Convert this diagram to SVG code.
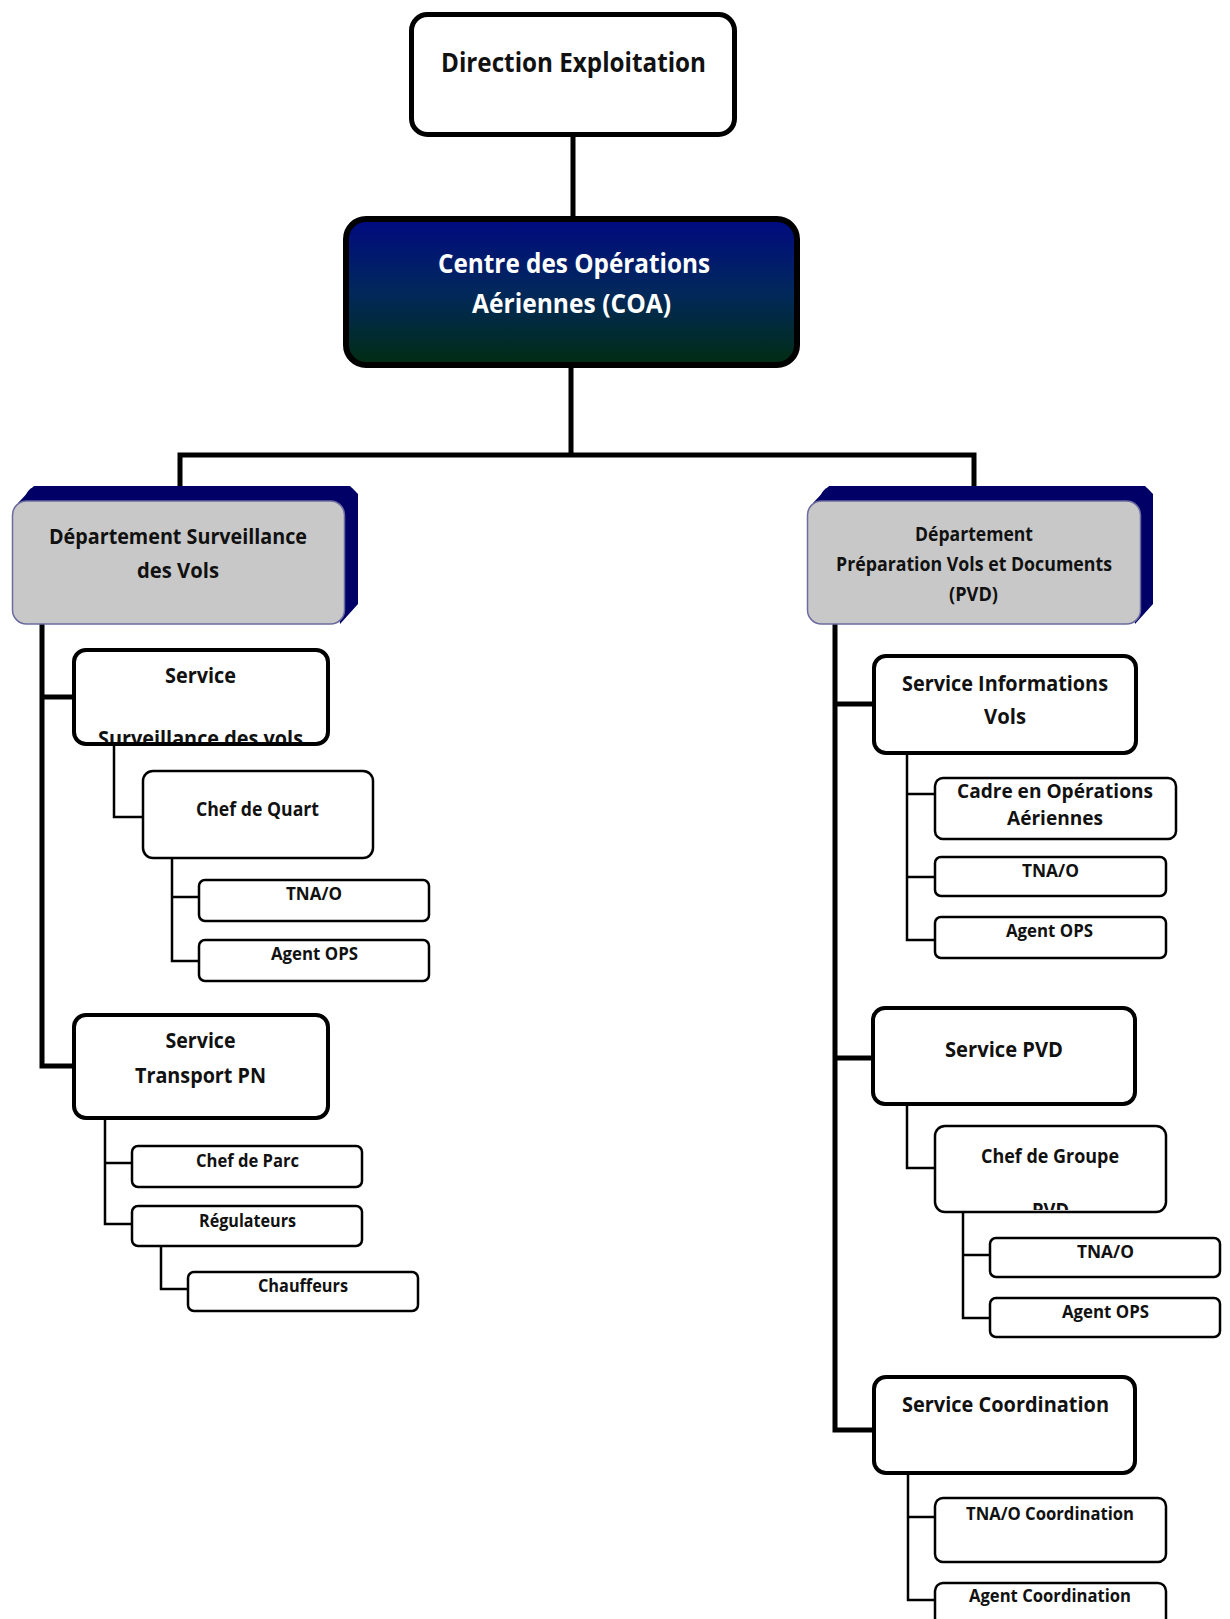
<svg xmlns="http://www.w3.org/2000/svg" width="1230" height="1619" viewBox="0 0 1230 1619">
  <defs>
    <linearGradient id="coaFill" x1="0" y1="0" x2="0" y2="1">
      <stop offset="0" stop-color="#000a80"/>
      <stop offset="0.5" stop-color="#01285c"/>
      <stop offset="1" stop-color="#012d12"/>
    </linearGradient>
    <clipPath id="clipSurv"><rect x="70" y="640" width="270" height="102"/></clipPath>
    <clipPath id="clipGroupe"><rect x="930" y="1120" width="245" height="90"/></clipPath>
    <style>
      text { font-family: "Open Sans", "Noto Sans", "Liberation Sans", sans-serif; font-weight: bold; fill: #111; }
      .box { fill: #fff; stroke: #000; }
      .b5 { stroke-width: 5; }
      .b4 { stroke-width: 4; }
      .b3 { stroke-width: 2.5; }
      .dept { fill: #c8c8c8; stroke: #6b6ba0; stroke-width: 1.5; }
      .deptBack { fill: #000066; }
      .thick { fill: none; stroke: #000; stroke-width: 5; }
      .thin { fill: none; stroke: #000; stroke-width: 2.5; }
      .white { fill: #fff; }
      .f26 { font-size: 26px; }
      .f21 { font-size: 21.5px; }
      .f19 { font-size: 19px; }
      .f18 { font-size: 18px; }
    </style>
  </defs>

  <!-- connectors -->
  <g id="connectors">
    <path class="thick" d="M573,137 V216"/>
    <path class="thick" d="M571,368 V455 M177.5,455 H976.5 M180,455 V488 M974,455 V488"/>
    <path class="thick" d="M42,624 V1066 H72 M42,697 H72"/>
    <path class="thick" d="M835,624 V1430 H872 M835,704 H872 M835,1058 H871"/>
    <path class="thin" d="M114,746 V817 H142"/>
    <path class="thin" d="M172,859 V961 H198 M172,897 H198"/>
    <path class="thin" d="M105,1120 V1224 H131 M105,1163 H131"/>
    <path class="thin" d="M161,1247 V1289 H187"/>
    <path class="thin" d="M907,755 V940 H934 M907,794 H934 M907,877 H934"/>
    <path class="thin" d="M907,1106 V1168 H934"/>
    <path class="thin" d="M963,1213 V1318 H989 M963,1255 H989"/>
    <path class="thin" d="M908,1475 V1600 H934 M908,1517 H934"/>
  </g>

  <!-- top management -->
  <g id="direction">
    <rect class="box b5" x="411.5" y="14.5" width="323" height="120" rx="16"/>
    <text class="f26" x="441" y="72" textLength="265" lengthAdjust="spacingAndGlyphs">Direction Exploitation</text>
  </g>

  <g id="coa">
    <rect x="346" y="219" width="451" height="146" rx="20" fill="url(#coaFill)" stroke="#000" stroke-width="6"/>
    <text class="f26 white" x="438" y="273" textLength="272" lengthAdjust="spacingAndGlyphs">Centre des Opérations</text>
    <text class="f26 white" x="472" y="313" textLength="199" lengthAdjust="spacingAndGlyphs">Aériennes (COA)</text>
  </g>

  <!-- departments -->
  <g id="dept-surveillance">
    <rect class="deptBack" x="25" y="486" width="333" height="123" rx="14"/>
    <polygon class="deptBack" points="18,503 34,486 350,486 358,494 358,604 340,624 330,501"/>
    <rect class="dept" x="12.5" y="501" width="332" height="123" rx="14"/>
    <text class="f21" x="49" y="544" textLength="258" lengthAdjust="spacingAndGlyphs">Département Surveillance</text>
    <text class="f21" x="137" y="578" textLength="82" lengthAdjust="spacingAndGlyphs">des Vols</text>
  </g>

  <g id="dept-pvd">
    <rect class="deptBack" x="820" y="486" width="333" height="123" rx="14"/>
    <polygon class="deptBack" points="813,503 829,486 1145,486 1153,494 1153,604 1135,624 1125,501"/>
    <rect class="dept" x="807.5" y="501" width="333" height="123" rx="14"/>
    <text class="f19" x="915" y="541" textLength="118" lengthAdjust="spacingAndGlyphs">Département</text>
    <text class="f19" x="836" y="571" textLength="276" lengthAdjust="spacingAndGlyphs">Préparation Vols et Documents</text>
    <text class="f19" x="949" y="601" textLength="49" lengthAdjust="spacingAndGlyphs">(PVD)</text>
  </g>

  <!-- left branch -->
  <g id="service-surveillance">
    <rect class="box b4" x="74" y="650" width="254" height="94" rx="12"/>
    <text class="f21" x="165" y="683" textLength="71" lengthAdjust="spacingAndGlyphs">Service</text>
    <text class="f21" x="98" y="746" textLength="205" lengthAdjust="spacingAndGlyphs" clip-path="url(#clipSurv)">Surveillance des vols</text>
  </g>

  <g id="chef-quart">
    <rect class="box b3" x="143" y="771" width="230" height="87" rx="10"/>
    <text class="f19" x="196" y="816" textLength="123" lengthAdjust="spacingAndGlyphs">Chef de Quart</text>
  </g>

  <g id="tnao-quart">
    <rect class="box b3" x="199" y="880" width="230" height="41" rx="6"/>
    <text class="f18" x="286" y="900" textLength="56" lengthAdjust="spacingAndGlyphs">TNA/O</text>
  </g>

  <g id="agent-ops-quart">
    <rect class="box b3" x="199" y="940" width="230" height="41" rx="6"/>
    <text class="f18" x="271" y="960" textLength="87" lengthAdjust="spacingAndGlyphs">Agent OPS</text>
  </g>

  <g id="service-transport">
    <rect class="box b4" x="74" y="1015" width="254" height="103" rx="12"/>
    <text class="f21" x="165.5" y="1048" textLength="70" lengthAdjust="spacingAndGlyphs">Service</text>
    <text class="f21" x="135" y="1083" textLength="131" lengthAdjust="spacingAndGlyphs">Transport PN</text>
  </g>

  <g id="chef-parc">
    <rect class="box b3" x="132" y="1146" width="230" height="41" rx="6"/>
    <text class="f18" x="196" y="1167" textLength="103" lengthAdjust="spacingAndGlyphs">Chef de Parc</text>
  </g>

  <g id="regulateurs">
    <rect class="box b3" x="132" y="1206" width="230" height="40" rx="6"/>
    <text class="f18" x="199" y="1227" textLength="97" lengthAdjust="spacingAndGlyphs">Régulateurs</text>
  </g>

  <g id="chauffeurs">
    <rect class="box b3" x="188" y="1272" width="230" height="39" rx="6"/>
    <text class="f18" x="258" y="1292" textLength="90" lengthAdjust="spacingAndGlyphs">Chauffeurs</text>
  </g>

  <!-- right branch -->
  <g id="service-info-vols">
    <rect class="box b4" x="874" y="656" width="262" height="97" rx="12"/>
    <text class="f21" x="902" y="691" textLength="206" lengthAdjust="spacingAndGlyphs">Service Informations</text>
    <text class="f21" x="984" y="724" textLength="42" lengthAdjust="spacingAndGlyphs">Vols</text>
  </g>

  <g id="cadre-ops">
    <rect class="box b3" x="935" y="778" width="241" height="61" rx="8"/>
    <text class="f19" x="957" y="798" textLength="196" lengthAdjust="spacingAndGlyphs">Cadre en Opérations</text>
    <text class="f19" x="1007" y="825" textLength="96" lengthAdjust="spacingAndGlyphs">Aériennes</text>
  </g>

  <g id="tnao-info">
    <rect class="box b3" x="935" y="857" width="231" height="39" rx="6"/>
    <text class="f18" x="1022" y="877" textLength="57" lengthAdjust="spacingAndGlyphs">TNA/O</text>
  </g>

  <g id="agent-ops-info">
    <rect class="box b3" x="935" y="917" width="231" height="41" rx="6"/>
    <text class="f18" x="1006" y="937" textLength="87" lengthAdjust="spacingAndGlyphs">Agent OPS</text>
  </g>

  <g id="service-pvd">
    <rect class="box b4" x="873" y="1008" width="262" height="96" rx="12"/>
    <text class="f21" x="945" y="1057" textLength="118" lengthAdjust="spacingAndGlyphs">Service PVD</text>
  </g>

  <g id="chef-groupe">
    <rect class="box b3" x="935" y="1126" width="231" height="86" rx="10"/>
    <text class="f19" x="981" y="1163" textLength="138" lengthAdjust="spacingAndGlyphs">Chef de Groupe</text>
    <text class="f19" x="1032" y="1217" textLength="37" lengthAdjust="spacingAndGlyphs" clip-path="url(#clipGroupe)">PVD</text>
  </g>

  <g id="tnao-groupe">
    <rect class="box b3" x="990" y="1238" width="230" height="39" rx="6"/>
    <text class="f18" x="1077" y="1258" textLength="57" lengthAdjust="spacingAndGlyphs">TNA/O</text>
  </g>

  <g id="agent-ops-groupe">
    <rect class="box b3" x="990" y="1298" width="230" height="39" rx="6"/>
    <text class="f18" x="1062" y="1318" textLength="87" lengthAdjust="spacingAndGlyphs">Agent OPS</text>
  </g>

  <g id="service-coordination">
    <rect class="box b4" x="874" y="1377" width="261" height="96" rx="12"/>
    <text class="f21" x="902" y="1412" textLength="207" lengthAdjust="spacingAndGlyphs">Service Coordination</text>
  </g>

  <g id="tnao-coordination">
    <rect class="box b3" x="935" y="1498" width="231" height="64" rx="8"/>
    <text class="f18" x="966" y="1520" textLength="168" lengthAdjust="spacingAndGlyphs">TNA/O Coordination</text>
  </g>

  <g id="agent-coordination">
    <rect class="box b3" x="935" y="1583" width="231" height="60" rx="8"/>
    <text class="f18" x="969" y="1602" textLength="162" lengthAdjust="spacingAndGlyphs">Agent Coordination</text>
  </g>
</svg>
